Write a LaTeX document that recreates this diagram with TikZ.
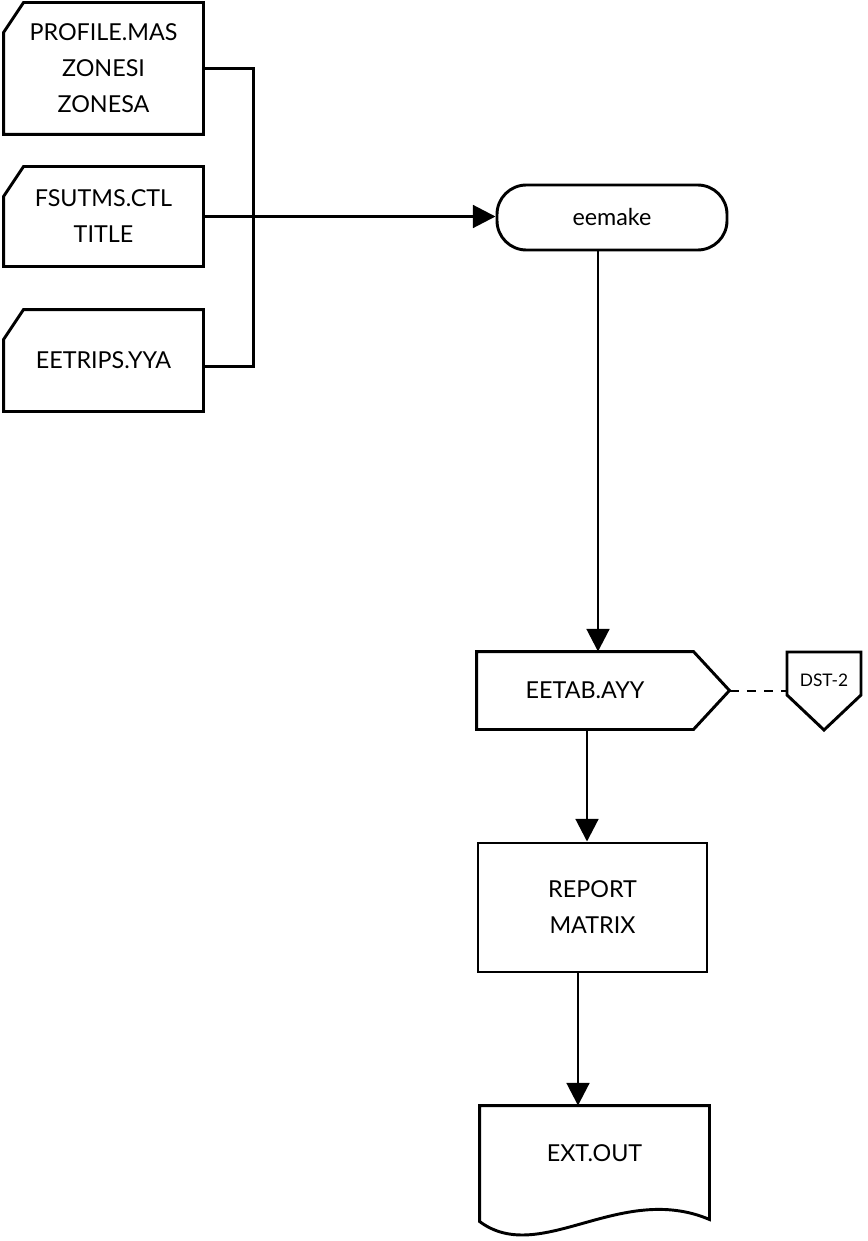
\documentclass[tikz,border=0pt]{standalone}
\usepackage{fontspec}
\setmainfont{Lato}
\usetikzlibrary{arrows.meta,calc}
\begin{document}
\begin{tikzpicture}[x=0.75pt,y=-0.75pt, line width=2.2pt, line join=miter,
  tx/.style={inner sep=0pt, align=center, font=\fontsize{17.5}{27}\selectfont},
  arr/.style={-{Triangle[length=17pt,width=17pt]}},
  dsh/.style={line width=1.5pt, dash pattern=on 7pt off 6pt}]
\useasboundingbox (0,0) rectangle (867,1241);

% input cards
\node[tx, minimum width=197*0.75pt, minimum height=129*0.75pt] (c1) at (103.5,68.5) {PROFILE.MAS\\ZONESI\\ZONESA};
\draw ($(c1.north west)+(0,30)$) -- ($(c1.north west)+(20,0)$) -- (c1.north east) -- (c1.south east) -- (c1.south west) -- cycle;

\node[tx, minimum width=197*0.75pt, minimum height=97*0.75pt] (c2) at (103.5,216.5) {FSUTMS.CTL\\TITLE};
\draw ($(c2.north west)+(0,30)$) -- ($(c2.north west)+(20,0)$) -- (c2.north east) -- (c2.south east) -- (c2.south west) -- cycle;

\node[tx, minimum width=197*0.75pt, minimum height=99*0.75pt] (c3) at (103.5,360.5) {EETRIPS.YYA};
\draw ($(c3.north west)+(0,30)$) -- ($(c3.north west)+(20,0)$) -- (c3.north east) -- (c3.south east) -- (c3.south west) -- cycle;

% program
\node[tx, draw, rounded corners=22pt, minimum width=230*0.75pt, minimum height=65*0.75pt] (ee) at (612,217.5) {eemake};

% connectors from inputs
\coordinate (b3) at ($(c3.east)+(0,6)$);
\draw (c1.east) -- ++(50,0) |- (b3);
\draw[arr] (c2.east) -- (c2.east -| ee.west);

% EETAB
\node[tx, minimum width=214*0.75pt, minimum height=75*0.75pt] (et) at (585,690.5) {EETAB.AYY};
\draw (et.north west) -- (et.north east) -- ($(et.east)+(36,0)$) -- (et.south east) -- (et.south west) -- cycle;
\coordinate (e1) at ($(ee.south)+(-14,0)$);
\draw[arr] (e1) -- (e1 |- et.north);

% DST-2
\node[tx, font=\fontsize{13}{15}\selectfont] (dst) at (824,680) {DST-2};
\coordinate (dnw) at ($(dst)+(-37,-28)$);
\coordinate (dne) at ($(dst)+(37,-28)$);
\draw (dnw) -- (dne) -- ($(dne)+(0,43)$) -- ($(dst)+(0,50)$) -- ($(dnw)+(0,43)$) -- cycle;
\coordinate (tip) at ($(et.east)+(36,0)$);
\draw[dsh] (tip) -- (dnw |- tip);

% REPORT
\node[tx, draw, minimum width=229*0.75pt, minimum height=129*0.75pt] (rep) at (592.5,907.5) {REPORT\\MATRIX};
\coordinate (e2) at ($(et.south)+(2,0)$);
\draw[arr] (e2) -- (e2 |- rep.north);

% EXT.OUT
\node[tx, minimum width=227*0.75pt, minimum height=92*0.75pt] (ext) at (594.5,1153) {EXT.OUT};
\draw ($(ext.south west)+(0,21)$) -- (ext.north west) -- (ext.north east) -- ($(ext.south east)+(0,19)$)
  .. controls ($(ext.south)+(25.5,-19)$) and ($(ext.south)+(-54.5,66)$) .. ($(ext.south west)+(0,21)$) -- cycle;
\coordinate (e3) at ($(rep.south)+(-14.5,0)$);
\draw[arr] (e3) -- (e3 |- ext.north);
\end{tikzpicture}
\end{document}
